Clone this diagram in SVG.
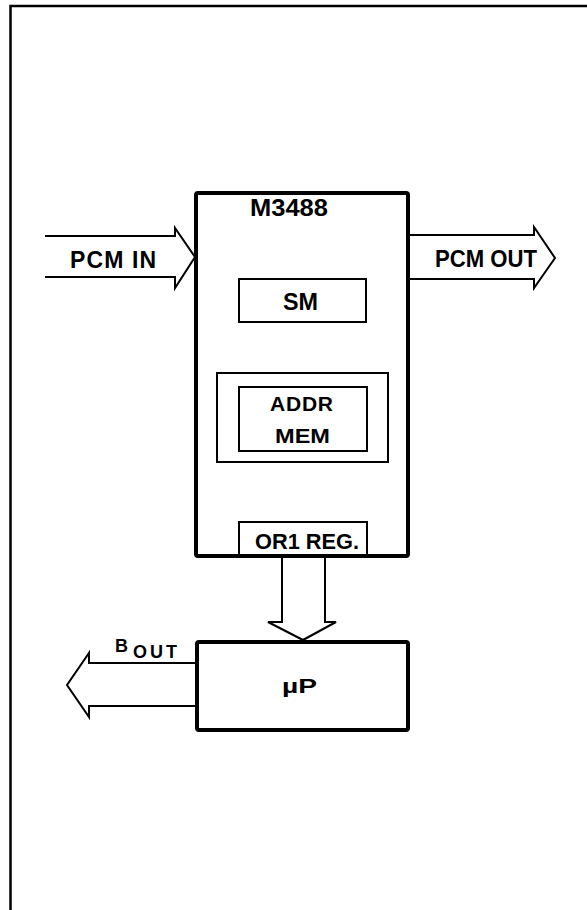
<svg xmlns="http://www.w3.org/2000/svg" width="587" height="910" viewBox="0 0 587 910">
<style>
.t{font-family:"Liberation Sans",Arial,sans-serif;font-weight:bold;fill:#000}
.thin{fill:none;stroke:#000;stroke-width:2;stroke-linejoin:miter}
.thick{fill:#fff;stroke:#000;stroke-width:4}
.arr{fill:#fff;stroke:#000;stroke-width:2;stroke-linejoin:miter}
</style>
<rect width="587" height="910" fill="#fff"/>
<path d="M10.5,910 V6 H587" fill="none" stroke="#000" stroke-width="2.5"/>
<g id="connectors">
<path class="arr" d="M45,236 H175 V228 L195,257 L175,288 V277 H45"/>
<path class="arr" d="M408,235 H534 V227 L555,258 L534,288 V279 H408"/>
<path class="arr" d="M282,556 V622 H268 L303,640 L336,622 H325 V556"/>
<path class="arr" d="M197,663 H89 V653 L67,685 L89,717 V706 H197"/>
</g>
<g id="labels">
<text class="t" x="70" y="268" font-size="23" textLength="86" lengthAdjust="spacing">PCM IN</text>
<text class="t" x="435" y="267" font-size="23" textLength="102" lengthAdjust="spacingAndGlyphs">PCM OUT</text>
<text class="t" x="115" y="652" font-size="18">B</text>
<text class="t" x="133" y="658" font-size="18" textLength="44" lengthAdjust="spacing">OUT</text>
</g>
<g id="m3488">
<rect class="thick" x="196" y="193" width="212" height="363" rx="2" fill="none"/>
<text class="t" x="250" y="216" font-size="24" textLength="78" lengthAdjust="spacingAndGlyphs">M3488</text>
</g>
<g id="sm">
<rect class="thin" x="239" y="279" width="127" height="43"/>
<text class="t" x="283" y="310" font-size="23" textLength="35" lengthAdjust="spacingAndGlyphs">SM</text>
</g>
<g id="addr-mem">
<rect class="thin" x="217" y="373" width="171" height="89"/>
<rect class="thin" x="239" y="387" width="128" height="64"/>
<text class="t" x="270" y="411" font-size="21" textLength="63" lengthAdjust="spacing">ADDR</text>
<text class="t" x="275" y="443" font-size="21" textLength="55" lengthAdjust="spacingAndGlyphs">MEM</text>
</g>
<g id="or1-reg">
<path class="thin" d="M239,556 V522 H367 V556"/>
<text class="t" x="255" y="549" font-size="22" textLength="104" lengthAdjust="spacingAndGlyphs">OR1 REG.</text>
</g>
<g id="up">
<rect class="thick" x="197" y="642" width="211" height="88" rx="2"/>
<text class="t" x="282" y="693" font-size="21" textLength="35" lengthAdjust="spacingAndGlyphs">µP</text>
</g>
</svg>
